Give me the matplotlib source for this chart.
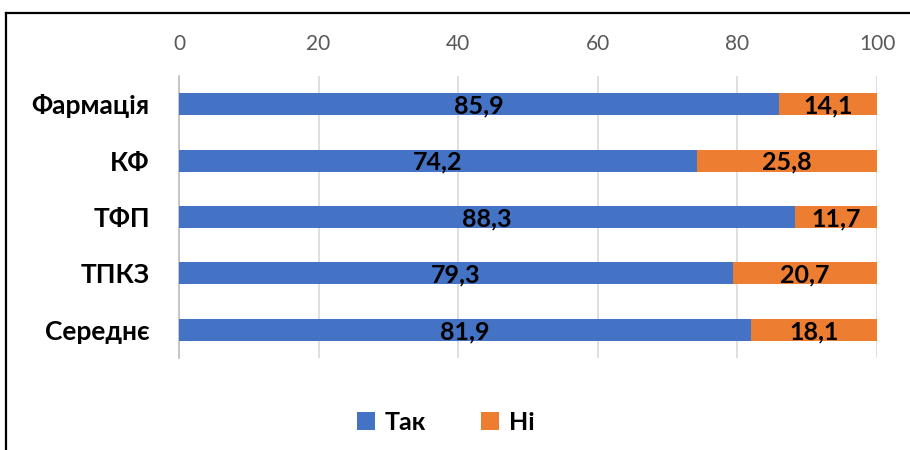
import matplotlib.pyplot as plt
from matplotlib.lines import Line2D

# --- DATA ---
categories = ["Фармація", "КФ", "ТФП", "ТПКЗ", "Середнє"]
tak = [85.9, 74.2, 88.3, 79.3, 81.9]
ni = [14.1, 25.8, 11.7, 20.7, 18.1]
series_names = ["Так", "Ні"]
xticks = [0, 20, 40, 60, 80, 100]

BLUE = "#4472C4"
ORANGE = "#ED7D31"
FONT = ["Lato", "DejaVu Sans"]

plt.rcParams["font.family"] = FONT

fig = plt.figure(figsize=(9.1, 4.5), dpi=100)
ax = fig.add_axes([179 / 910, 1 - 358 / 450, (877 - 179) / 910, (358 - 76) / 450])

y = list(range(len(categories)))
ax.barh(y, tak, height=0.39, color=BLUE, label=series_names[0], zorder=3)
ax.barh(y, ni, left=tak, height=0.39, color=ORANGE, label=series_names[1], zorder=3)

for i, (a, b) in enumerate(zip(tak, ni)):
    ax.text(a / 2, i + 0.03, f"{a:.1f}".replace(".", ","), ha="center", va="center",
            fontsize=18, fontweight="bold", color="black", zorder=4)
    ax.text(a + b / 2, i + 0.03, f"{b:.1f}".replace(".", ","), ha="center", va="center",
            fontsize=18, fontweight="bold", color="black", zorder=4)

ax.set_xlim(0, 100)
ax.set_ylim(len(categories) - 0.5, -0.5)
ax.set_xticks(xticks)
ax.xaxis.tick_top()
ax.tick_params(axis="x", length=0, pad=16, labelsize=15, labelcolor="#595959")
ax.set_yticks(y)
ax.set_yticklabels(categories, fontsize=19, fontweight="bold")
ax.tick_params(axis="y", length=0, pad=21)
ax.grid(axis="x", color="#D9D9D9", linewidth=1.2, zorder=0)
for s in ["top", "right", "bottom"]:
    ax.spines[s].set_visible(False)
ax.spines["left"].set_color("#BFBFBF")
ax.spines["left"].set_linewidth(1.2)

fig.legend(loc="center", bbox_to_anchor=(446 / 910, 1 - 422 / 450), ncol=2, frameon=False,
           prop={"family": FONT, "weight": "bold", "size": 18},
           handlelength=0.7, handleheight=0.7, handletextpad=0.4, columnspacing=2.2)

# outer chart frame (top and left edges visible)
fig.add_artist(Line2D([6 / 910, 6 / 910], [0, 1 - 13 / 450], color="black", linewidth=1.6))
fig.add_artist(Line2D([6 / 910, 1], [1 - 13 / 450, 1 - 13 / 450], color="black", linewidth=1.6))

fig.savefig("out.png", dpi=100)
